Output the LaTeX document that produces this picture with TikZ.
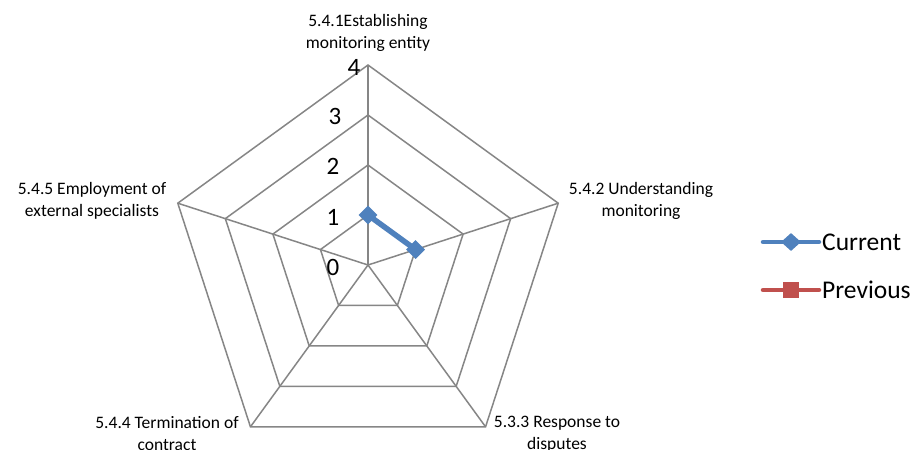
\documentclass[tikz,border=0pt]{standalone}
\usepackage{fontspec}
\setmainfont{Carlito}
\usetikzlibrary{shapes.geometric,calc}
\definecolor{gridgray}{HTML}{868686}
\definecolor{seriesblue}{HTML}{4F81BD}
\definecolor{seriesred}{HTML}{C0504D}
\tikzset{
  gridline/.style={draw=gridgray, line width=1.5pt, line join=miter},
  catlabel/.style={font=\fontsize{17.5}{22}\selectfont, align=center, inner sep=0pt},
  ticklabel/.style={font=\fontsize{25}{28}\selectfont, inner sep=0pt},
  legendtext/.style={font=\fontsize{25.5}{28}\selectfont, anchor=west, inner sep=0pt},
  diamondmark/.style={diamond, fill=seriesblue, inner sep=0pt, minimum width=19pt, minimum height=19pt},
  squaremark/.style={rectangle, fill=seriesred, inner sep=0pt, minimum size=16pt},
  blueseries/.style={draw=seriesblue, line width=5.5pt},
  redseries/.style={draw=seriesred, line width=5.5pt}
}
\begin{document}
\begin{tikzpicture}[x=1pt, y=-1pt]
  \useasboundingbox (0,0) rectangle (914,450);
  \fill[white] (0,0) rectangle (914,450);
  % chart centre (y axis points down, so angles run clockwise)
  \coordinate (O) at (368,265);
  % pentagon rings, 50pt per unit
  \foreach \r in {1,2,3,4} {
    \draw[gridline] ($(O)+(-90:{50*\r})$) -- ($(O)+(-18:{50*\r})$) -- ($(O)+(54:{50*\r})$)
      -- ($(O)+(126:{50*\r})$) -- ($(O)+(198:{50*\r})$) -- cycle;
  }
  % spokes
  \foreach \a/\n in {-90/A,-18/B,54/C,126/D,198/E} {
    \coordinate (\n) at ($(O)+(\a:200)$);
    \draw[gridline] (O) -- (\n);
  }
  % scale labels
  \node[ticklabel] (t4) at (354,67) {4};
  \node[ticklabel] (t3) at (335,116) {3};
  \node[ticklabel] (t2) at (333,166) {2};
  \node[ticklabel] (t1) at (333,217) {1};
  \node[ticklabel] (t0) at (333,267) {0};
  % category labels
  \node[catlabel] (lA) at (368,33) {5.4.1Establishing\\monitoring entity};
  \node[catlabel] (lB) at (641,201) {5.4.2 Understanding\\monitoring};
  \node[catlabel] (lE) at (92,201) {5.4.5 Employment of\\external specialists};
  \node[catlabel] (lD) at (167,434) {5.4.4 Termination of\\contract};
  \node[catlabel] (lC) at (557,434) {5.3.3 Response to\\disputes};
  % current series
  \coordinate (v1) at ($(O)+(-90:50)$);
  \coordinate (v2) at ($(O)+(-18:50)$);
  \draw[blueseries] (v1) -- (v2);
  \node[diamondmark] (p1) at (v1) {};
  \node[diamondmark] (p2) at (v2) {};
  % legend
  \coordinate (c1) at (763,242);
  \coordinate (c2) at (819,242);
  \draw[blueseries, line width=4.5pt, line cap=round] (c1) -- (c2);
  \node[diamondmark, minimum width=20pt, minimum height=18pt] (cm) at (791,242) {};
  \node[legendtext] (ct) at (822,242) {Current};
  \coordinate (r1) at (763,290);
  \coordinate (r2) at (819,290);
  \draw[redseries, line width=4.5pt, line cap=round] (r1) -- (r2);
  \node[squaremark] (rm) at (791,290) {};
  \node[legendtext] (rt) at (822,290) {Previous};
\end{tikzpicture}
\end{document}
